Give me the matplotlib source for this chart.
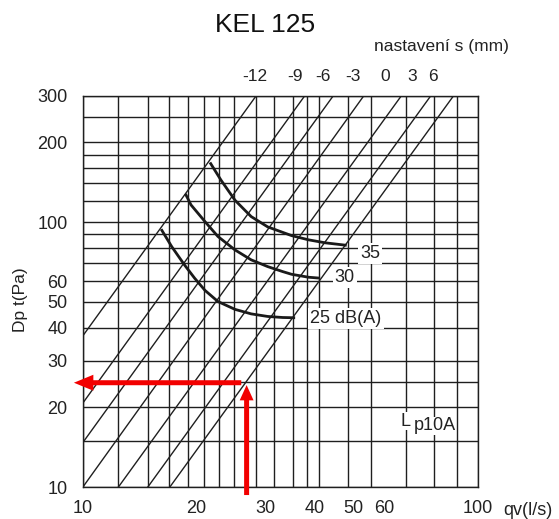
import matplotlib
matplotlib.use("Agg")
import matplotlib.pyplot as plt
import matplotlib.transforms as mtransforms

plt.rcParams['font.family'] = ['Liberation Sans', 'DejaVu Sans']

# Rejilla (l/s y Pa)
x_grid = [10, 12.3, 14.6, 16.56, 18.43, 20.3, 22.1, 24.2, 27.4, 30.55,
          34.0, 36.9, 39.7, 46.9, 53.7, 66.0, 77.6, 88.6, 100]
y_grid = [10, 15, 20, 25, 30, 40, 50, 60, 70, 80, 90,
          100, 120, 140, 160, 180, 200, 250, 300]

x_ticks = [10, 20, 30, 40, 50, 60, 100]
y_ticks = [10, 20, 30, 40, 50, 60, 100, 200, 300]

# Rectas de ajuste s (mm): caudal a 10 Pa y a 300 Pa
s_labels = ['-12', '-9', '-6', '-3', '0', '3', '6']
s_q10 = [5.29, 7.02, 8.29, 10.0, 12.3, 14.6, 16.6]
s_q300 = [27.5, 36.5, 43.1, 51.5, 64.1, 76.1, 86.9]
s_label_q = [27.3, 34.5, 40.6, 48.3, 58.3, 68.2, 77.1]

# Curvas de ruido Lp10A
q25 = [15.8, 16.8, 18.1, 19.2, 20.4, 22.0, 24.3, 26.7, 29.4, 32.1, 34.5]
dp25 = [94.1, 80.9, 69.0, 61.5, 55.3, 50.2, 46.9, 45.1, 44.1, 43.7, 43.6]
q30 = [18.2, 18.8, 20.4, 22.0, 24.3, 26.7, 29.4, 32.1, 33.8, 37.3, 39.9]
dp30 = [127.9, 116.2, 100.5, 88.3, 78.6, 72.1, 68.0, 65.1, 63.6, 62.0, 61.5]
q35 = [21.0, 22.4, 24.3, 26.7, 29.4, 33.8, 37.3, 41.1, 46.6]
dp35 = [168, 144, 121, 105, 96, 89, 85.8, 83.6, 81.8]

# Ejemplo de lectura (flechas)
q_ejemplo = 26.0
dp_ejemplo = 24.8

fig = plt.figure(figsize=(5.59, 5.19), dpi=100)
ax = fig.add_axes([82.7 / 559, 31.7 / 519, 395 / 559, 391.6 / 519])
ax.set_xscale('log')
ax.set_yscale('log')
ax.set_xlim(10, 100)
ax.set_ylim(10, 300)

gris = '#1f1f1f'
for x in x_grid:
    ax.axvline(x, color=gris, lw=1.0, zorder=1)
for y in y_grid:
    ax.axhline(y, color=gris, lw=1.0, zorder=1)
for sp in ax.spines.values():
    sp.set_color(gris)
    sp.set_linewidth(1.0)

# Rectas s
for a, b in zip(s_q10, s_q300):
    ax.plot([a, b], [10, 300], color=gris, lw=1.0, zorder=2)

# Curvas dB(A)
for q, dp in [(q25, dp25), (q30, dp30), (q35, dp35)]:
    ax.plot(q, dp, color='#1a1a1a', lw=2.0, zorder=3, solid_capstyle='butt')

caja = dict(facecolor='white', edgecolor='none', pad=1.5)
ax.text(53.4, 76.4, '35', fontsize=13, color='#222222', ha='center', va='center', bbox=caja, zorder=4)
ax.text(46.1, 62.0, '30', fontsize=13, color='#222222', ha='center', va='center', bbox=caja, zorder=4)
ax.text(37.7, 43.4, '25 dB(A)', fontsize=13, color='#222222', ha='left', va='center', bbox=caja, zorder=4)
ax.text(68.8, 17.05, 'p10A', fontsize=13, color='#222222', ha='left', va='center',
        bbox=dict(facecolor='white', edgecolor='none', pad=0.3), zorder=4)
ax.text(63.9, 17.75, 'L', fontsize=13, color='#222222', ha='left', va='center',
        bbox=dict(facecolor='white', edgecolor='none', pad=0.3), zorder=5)

# Ejes y etiquetas
ax.minorticks_off()
ax.set_xticks(x_ticks)
ax.set_xticklabels([str(v) for v in x_ticks])
ax.set_yticks(y_ticks)
ax.set_yticklabels([str(v) for v in y_ticks])
ax.tick_params(length=0, labelsize=13, labelcolor='#222222')
ax.tick_params(axis='x', pad=9)
ax.tick_params(axis='y', pad=11)
desplaza = mtransforms.ScaledTranslation(3 / 72, 0, fig.dpi_scale_trans)
for v, lbl in zip(x_ticks, ax.get_xticklabels()):
    if v not in (10, 100):
        lbl.set_horizontalalignment('right')
        lbl.set_transform(lbl.get_transform() + desplaza)

ax.text(1.064, -0.058, 'qv(l/s)', transform=ax.transAxes, fontsize=13,
        color='#222222', ha='left', va='center')

for q, lbl in zip(s_label_q, s_labels):
    ax.text(q, 1.049, lbl, transform=ax.get_xaxis_transform(), fontsize=12.5,
            color='#222222', ha='center', va='center')

fig.text(441.7 / 559, 1 - 46 / 519, 'nastavení s (mm)', fontsize=12.5,
         color='#222222', ha='center', va='center')
fig.text(265 / 559, 1 - 25 / 519, 'KEL 125', fontsize=19,
         color='#111111', ha='center', va='center')
fig.text(20 / 559, 1 - 300 / 519, 'Dp t(Pa)', fontsize=12.5, rotation=90,
         color='#222222', ha='center', va='center')

# Flechas rojas
rojo = '#f20000'
ax.annotate('', xy=(9.5, dp_ejemplo), xytext=(25.2, dp_ejemplo),
            arrowprops=dict(arrowstyle='simple,head_length=14,head_width=11.5,tail_width=3.6',
                            mutation_scale=1, color=rojo, lw=0, shrinkA=0, shrinkB=0),
            annotation_clip=False, zorder=5)
ax.annotate('', xy=(q_ejemplo, 24.3), xytext=(q_ejemplo, 9.35),
            arrowprops=dict(arrowstyle='simple,head_length=11,head_width=10,tail_width=3.6',
                            mutation_scale=1, color=rojo, lw=0, shrinkA=0, shrinkB=0),
            annotation_clip=False, zorder=5)

fig.savefig('out.png', dpi=100)
